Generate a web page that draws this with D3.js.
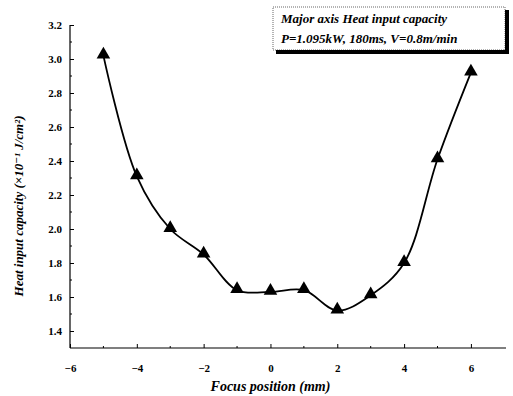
<!DOCTYPE html>
<html>
<head>
<meta charset="utf-8">
<script src="https://cdn.jsdelivr.net/npm/d3@7"></script>
<style>
  body { margin: 0; background: #fff; }
  text { font-family: "Liberation Serif", "DejaVu Serif", serif; font-weight: bold; }
</style>
</head>
<body>
<div id="container"></div>
<script>
// focus position (mm) and heat input capacity
var focus = [-5, -4, -3, -2, -1, 0, 1, 2, 3, 4, 5, 6];
var heat = [3.02, 2.31, 2.0, 1.85, 1.64, 1.63, 1.64, 1.52, 1.61, 1.80, 2.41, 2.92];

var xTicks = [-6, -4, -2, 0, 2, 4, 6];
var yTicks = [1.4, 1.6, 1.8, 2.0, 2.2, 2.4, 2.6, 2.8, 3.0, 3.2];

var legendLines = ["Major axis Heat input capacity", "P=1.095kW, 180ms, V=0.8m/min"];

var width = 513, height = 396;

var svg = d3.select("#container").append("svg")
    .attr("width", width)
    .attr("height", height)

var x = d3.scaleLinear().domain([-6, 7.05]).range([70, 506])
var y = d3.scaleLinear().domain([1.3, 3.2]).range([348, 25])

// axes
var xAxis = svg.append("g")
    .attr("transform", "translate(0," + y(1.3) + ")")
    .call(d3.axisBottom(x).tickValues(xTicks).tickSize(-4).tickPadding(16).tickFormat(d3.format("d")))
xAxis.select(".domain").attr("d", "M" + x(-6) + ",0H" + x(7.05)).attr("stroke-width", 1.2)
xAxis.selectAll(".tick text").style("font-size", "11px")

// minor x ticks
svg.append("g").selectAll("line")
    .data(d3.range(-5, 7, 2))
    .enter().append("line")
    .attr("x1", function(d) { return x(d) })
    .attr("x2", function(d) { return x(d) })
    .attr("y1", y(1.3))
    .attr("y2", y(1.3) - 2)
    .attr("stroke", "#000")

var yAxis = svg.append("g")
    .attr("transform", "translate(" + x(-6) + ",0)")
    .call(d3.axisLeft(y).tickValues(yTicks).tickSize(-4).tickPadding(8).tickFormat(d3.format(".1f")))
yAxis.select(".domain").attr("d", "M0," + y(1.3) + "V" + y(3.2)).attr("stroke-width", 1.2)
yAxis.selectAll(".tick text").style("font-size", "11px")

// minor y ticks
svg.append("g").selectAll("line")
    .data(d3.range(1.5, 3.2, 0.2))
    .enter().append("line")
    .attr("x1", x(-6))
    .attr("x2", x(-6) + 2)
    .attr("y1", function(d) { return y(d) })
    .attr("y2", function(d) { return y(d) })
    .attr("stroke", "#000")

// axis titles
svg.append("text")
    .attr("x", x(0))
    .attr("y", 391)
    .attr("text-anchor", "middle")
    .style("font-size", "14px")
    .style("font-style", "italic")
    .text("Focus position (mm)")

svg.append("text")
    .attr("transform", "translate(23," + 206 + ") rotate(-90)")
    .attr("text-anchor", "middle")
    .style("font-size", "13px")
    .style("font-style", "italic")
    .text("Heat input capacity (×10⁻¹ J/cm²)")

// curve
var pts = focus.map(function(f, i) { return [f, heat[i]] })

var line = d3.line()
    .x(function(d) { return x(d[0]) })
    .y(function(d) { return y(d[1]) })
    .curve(d3.curveCatmullRom.alpha(0.5))

svg.append("path")
    .datum(pts)
    .attr("d", line)
    .attr("fill", "none")
    .attr("stroke", "#000")
    .attr("stroke-width", 1.8)

svg.selectAll(".marker")
    .data(pts)
    .enter().append("path")
    .attr("class", "marker")
    .attr("d", d3.symbol().type(d3.symbolTriangle).size(80))
    .attr("transform", function(d) { return "translate(" + x(d[0]) + "," + (y(d[1]) - 1) + ")" })
    .attr("fill", "#000")

// legend box
var lg = svg.append("g")
lg.append("rect")
    .attr("x", 276).attr("y", 10)
    .attr("width", 233).attr("height", 44)
    .attr("fill", "#000")
lg.append("rect")
    .attr("x", 273).attr("y", 7)
    .attr("width", 232).attr("height", 43)
    .attr("fill", "#fff")
    .attr("stroke", "#000")
    .attr("stroke-width", 0.6)
    .attr("stroke-dasharray", "1,1")
lg.selectAll("text")
    .data(legendLines)
    .enter().append("text")
    .attr("x", 281)
    .attr("y", function(_, i) { return 23 + i * 20 })
    .style("font-size", "13px")
    .style("font-style", "italic")
    .text(function(d) { return d })
</script>
</body>
</html>
